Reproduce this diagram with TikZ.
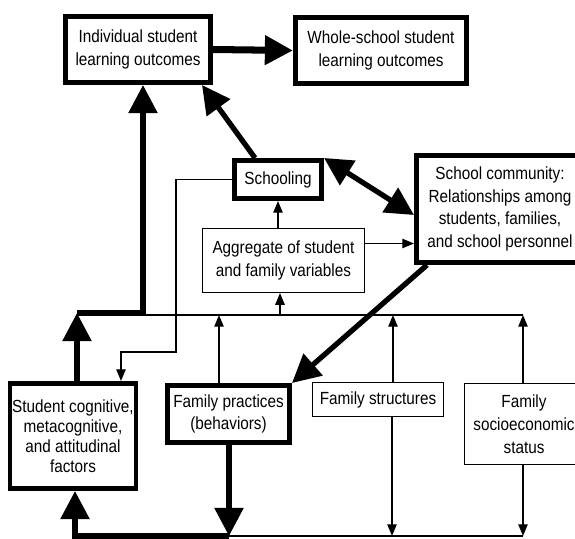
\documentclass[tikz,border=0pt]{standalone}
\usepackage{fontspec}
\setmainfont{Liberation Sans}[FakeStretch=0.87]
\usetikzlibrary{
    arrows.meta,
    calc
}
\tikzset{
    bigtip/.tip={Triangle[length=24pt,width=24pt]},
    smalltip/.tip={Triangle[length=10pt,width=8pt]},
    heavybox/.style={
        draw,
        line width=4pt,
        align=center,
        inner sep=2pt,
        font=\fontsize{15}{19.5}\selectfont
    },
    lightbox/.style={
        draw,
        line width=1.2pt,
        align=center,
        inner sep=2pt,
        font=\fontsize{15}{19.5}\selectfont
    },
    heavy/.style={line width=4.5pt},
    light/.style={line width=1.2pt}
}

\begin{document}
\begin{tikzpicture}[
    x=0.03cm,
    y=-0.03cm
]
    \useasboundingbox (0,0) rectangle (575,539);
    \clip (0,0) rectangle (575,539);

    % Cajas
    \node[heavybox, minimum width=4.36cm, minimum height=1.99cm] (ind)     at (138,49.5)  {Individual student\\learning outcomes};
    \node[heavybox, minimum width=5.14cm, minimum height=1.99cm] (whole)   at (381,50.5)  {Whole-school student\\learning outcomes};
    \node[heavybox, minimum width=2.62cm, minimum height=1.15cm] (school)  at (278,179.5) {Schooling};
    \node[heavybox, minimum width=5.02cm, minimum height=3.22cm] (comm)    at (500,209)   {School community:\\Relationships among\\students, families,\\and school personnel};
    \node[lightbox, minimum width=4.85cm, minimum height=1.91cm] (agg)     at (283.5,260.5) {Aggregate of student\\and family variables};
    \node[heavybox, minimum width=3.70cm, minimum height=3.16cm,
          font=\fontsize{15}{17}\selectfont]                     (student) at (73,436)    {Student cognitive,\\metacognitive,\\and attitudinal\\factors};
    \node[heavybox, minimum width=3.67cm, minimum height=1.72cm] (prac)    at (228.5,414) {Family practices\\(behaviors)};
    \node[lightbox, minimum width=3.92cm, minimum height=1.01cm] (struct)  at (378,399.5) {Family structures};
    \node[lightbox, minimum width=3.56cm, minimum height=2.42cm] (ses)     at (524,424)   {Family\\socioeconomic\\status};

    % Puntos de los buses
    \coordinate (lt)  at (77,313);
    \coordinate (lt2) at (143,313);
    \coordinate (b0)  at (143,315);
    \coordinate (b1)  at (219,315);
    \coordinate (ba)  at (280,315);
    \coordinate (b2)  at (393,315);
    \coordinate (b3)  at (523,315);
    \coordinate (d0)  at (75,536);
    \coordinate (d1)  at (229,536);
    \coordinate (d2)  at (392,536);
    \coordinate (d3)  at (523,536);
    \coordinate (s1)  at (176,352);
    \coordinate (s2)  at (121,352);

    % Flechas gruesas
    \draw[heavy, line width=6pt, -bigtip] (ind.east) -- (whole.west);
    \draw[heavy, -bigtip] ($(school.north)+(-23,0)$) -- ($(ind.south east)+(-11,0)$);
    \draw[heavy, bigtip-bigtip] (school.north east) -- ($(comm.west)+(0,6)$);
    \draw[heavy, -bigtip] ($(comm.south west)+(13,0)$) -- (prac.north east);
    \draw[heavy, -bigtip] (student.north -| lt) -- (lt);
    \draw[heavy, -bigtip] (lt) -- (lt2) -- (ind.south -| lt2);
    \draw[heavy, -bigtip] (prac.south -| d1) -- (d1);
    \draw[heavy, -bigtip] (d1) -- (d0) -- (student.south -| d0);

    % Flechas finas
    \draw[light] (b0) -- (b3);
    \draw[light, -smalltip] (prac.north -| b1) -- (b1);
    \draw[light, -smalltip] (struct.north -| b2) -- (b2);
    \draw[light, -smalltip] (ses.north -| b3) -- (b3);
    \draw[light, -smalltip] (ba) -- (agg.south -| ba);
    \draw[light, -smalltip] (agg.north -| school.south) -- (school.south);
    \draw[light, -smalltip] ($(agg.east)+(0,-17)$) -- ($(agg.east -| comm.west)+(0,-17)$);
    \draw[light, -smalltip] (school.west) -| (s1) -- (s2) -- (student.north -| s2);
    \draw[light] (d1) -- (d3);
    \draw[light, -smalltip] (struct.south -| d2) -- (d2);
    \draw[light, -smalltip] (ses.south -| d3) -- (d3);

\end{tikzpicture}
\end{document}
